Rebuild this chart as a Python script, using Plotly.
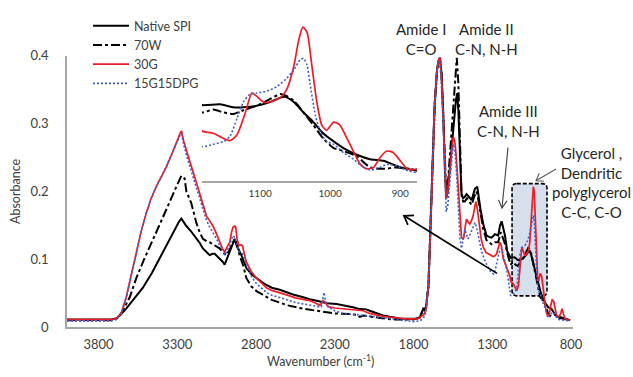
import math
import plotly.graph_objects as go

# FTIR spectra of soy protein isolate films: wavenumber (cm-1) and absorbance
native_wn = [4000, 3850, 3720, 3687, 3660, 3624, 3570, 3518, 3460, 3412, 3370, 3327, 3290, 3274,
             3260, 3242, 3215, 3190, 3160, 3137, 3110, 3094, 3075, 3062, 3045, 3031, 3010, 2999,
             2985, 2967, 2950, 2935, 2925, 2915, 2905, 2893, 2875, 2861, 2830, 2797, 2760, 2734,
             2700, 2649, 2600, 2565, 2500, 2459, 2400, 2374, 2350, 2289, 2240, 2184, 2150, 2120,
             2100, 2078, 2040, 1993, 1950, 1887, 1830, 1781, 1760, 1745, 1738, 1730, 1720, 1705,
             1695, 1680, 1665, 1650, 1640, 1632, 1622, 1610, 1600, 1592, 1582, 1570, 1555, 1540,
             1530, 1522, 1515, 1508, 1500, 1495, 1485, 1474, 1463, 1453, 1440, 1431, 1420, 1410,
             1395, 1385, 1374, 1357, 1336, 1320, 1304, 1290, 1283, 1262, 1250, 1240, 1230, 1219,
             1205, 1198, 1183, 1157, 1138, 1124, 1105, 1086, 1071, 1064, 1052, 1038, 1024, 1010,
             995, 981, 962, 943, 924, 905, 886, 876, 850, 825, 805]
native_abs = [0.011, 0.011, 0.011, 0.0125, 0.018, 0.027, 0.043, 0.058, 0.080, 0.101, 0.120, 0.140,
              0.155, 0.160, 0.155, 0.149, 0.142, 0.135, 0.125, 0.116, 0.109, 0.106, 0.108, 0.108,
              0.104, 0.101, 0.096, 0.092, 0.100, 0.111, 0.120, 0.130, 0.122, 0.116, 0.112, 0.106,
              0.095, 0.087, 0.078, 0.072, 0.066, 0.062, 0.058, 0.055, 0.051, 0.048, 0.044, 0.041,
              0.038, 0.037, 0.035, 0.034, 0.032, 0.029, 0.027, 0.027, 0.026, 0.024, 0.021, 0.017,
              0.015, 0.0125, 0.012, 0.012, 0.014, 0.022, 0.027, 0.025, 0.030, 0.060, 0.120, 0.230,
              0.330, 0.380, 0.393, 0.397, 0.375, 0.310, 0.230, 0.190, 0.200, 0.235, 0.275, 0.310,
              0.335, 0.345, 0.320, 0.270, 0.220, 0.197, 0.190, 0.192, 0.196, 0.194, 0.190, 0.187,
              0.196, 0.204, 0.207, 0.190, 0.173, 0.152, 0.135, 0.133, 0.132, 0.135, 0.137, 0.135,
              0.150, 0.156, 0.145, 0.135, 0.112, 0.108, 0.102, 0.103, 0.099, 0.099, 0.101, 0.106,
              0.112, 0.113, 0.106, 0.092, 0.079, 0.064, 0.053, 0.044, 0.035, 0.029, 0.027, 0.020,
              0.015, 0.015, 0.013, 0.011, 0.010]

w70_wn = [4000, 3720, 3680, 3645, 3600, 3560, 3510, 3455, 3410, 3370, 3340, 3306, 3274, 3253,
          3242, 3211, 3179, 3158, 3137, 3110, 3094, 3060, 3031, 3010, 2988, 2970, 2956, 2935,
          2920, 2904, 2880, 2861, 2830, 2797, 2760, 2734, 2700, 2649, 2600, 2501, 2420, 2374,
          2300, 2200, 2163, 2141, 2120, 2000, 1930, 1800, 1760, 1745, 1738, 1730, 1720, 1705,
          1695, 1680, 1665, 1650, 1640, 1632, 1622, 1610, 1600, 1592, 1582, 1570, 1555, 1540,
          1530, 1525, 1515, 1508, 1500, 1495, 1485, 1474, 1460, 1445, 1431, 1415, 1400, 1390,
          1374, 1357, 1336, 1304, 1283, 1262, 1245, 1230, 1215, 1200, 1183, 1167, 1152, 1138,
          1124, 1105, 1086, 1071, 1064, 1052, 1038, 1024, 1010, 995, 981, 962, 943, 924, 905,
          886, 876, 850, 825, 805]
w70_abs = [0.010, 0.010, 0.013, 0.024, 0.045, 0.072, 0.100, 0.130, 0.152, 0.173, 0.190, 0.207,
           0.223, 0.219, 0.200, 0.183, 0.154, 0.140, 0.130, 0.126, 0.125, 0.120, 0.116, 0.110,
           0.106, 0.113, 0.120, 0.130, 0.120, 0.106, 0.090, 0.072, 0.060, 0.053, 0.048, 0.044,
           0.040, 0.036, 0.032, 0.027, 0.024, 0.022, 0.020, 0.019, 0.018, 0.015, 0.017, 0.013,
           0.011, 0.011, 0.014, 0.022, 0.027, 0.024, 0.030, 0.060, 0.120, 0.230, 0.330, 0.380,
           0.393, 0.397, 0.375, 0.310, 0.240, 0.200, 0.210, 0.250, 0.300, 0.360, 0.390, 0.397,
           0.360, 0.290, 0.220, 0.195, 0.185, 0.185, 0.190, 0.185, 0.180, 0.192, 0.200, 0.190,
           0.165, 0.145, 0.128, 0.122, 0.125, 0.125, 0.140, 0.130, 0.120, 0.105, 0.092, 0.096,
           0.092, 0.090, 0.095, 0.101, 0.110, 0.117, 0.115, 0.108, 0.092, 0.075, 0.057, 0.044,
           0.040, 0.033, 0.018, 0.016, 0.018, 0.016, 0.0135, 0.012, 0.011, 0.010]

g30_wn = [4000, 3720, 3687, 3656, 3624, 3590, 3560, 3530, 3497, 3465, 3433, 3400, 3370, 3340,
          3317, 3295, 3280, 3272, 3260, 3240, 3221, 3190, 3158, 3135, 3115, 3095, 3073, 3050,
          3031, 3012, 2999, 2985, 2967, 2955, 2946, 2935, 2929, 2920, 2908, 2895, 2886, 2870,
          2861, 2830, 2797, 2760, 2734, 2700, 2649, 2600, 2550, 2459, 2420, 2395, 2380, 2374,
          2360, 2342, 2300, 2250, 2184, 2120, 2078, 2000, 1930, 1850, 1781, 1765, 1750, 1735,
          1720, 1705, 1695, 1680, 1665, 1650, 1640, 1632, 1622, 1610, 1600, 1592, 1582, 1570,
          1560, 1550, 1545, 1535, 1525, 1515, 1505, 1495, 1485, 1480, 1470, 1463, 1452, 1442,
          1430, 1421, 1410, 1404, 1395, 1383, 1370, 1357, 1340, 1325, 1310, 1294, 1282, 1272,
          1260, 1251, 1242, 1230, 1220, 1209, 1198, 1187, 1183, 1167, 1152, 1143, 1133, 1121,
          1112, 1105, 1095, 1086, 1071, 1062, 1052, 1045, 1039, 1033, 1026, 1019, 1012, 1005,
          995, 986, 976, 967, 957, 948, 938, 929, 919, 910, 900, 890, 876, 865, 857, 848, 838,
          820, 805]
g30_abs = [0.011, 0.011, 0.0125, 0.020, 0.044, 0.078, 0.111, 0.140, 0.168, 0.190, 0.207, 0.222,
           0.236, 0.252, 0.264, 0.278, 0.287, 0.289, 0.275, 0.258, 0.245, 0.222, 0.197, 0.178,
           0.164, 0.157, 0.149, 0.137, 0.125, 0.115, 0.111, 0.117, 0.125, 0.140, 0.147, 0.149,
           0.148, 0.130, 0.120, 0.121, 0.120, 0.104, 0.096, 0.082, 0.072, 0.064, 0.058, 0.054,
           0.051, 0.047, 0.043, 0.039, 0.035, 0.032, 0.036, 0.039, 0.036, 0.030, 0.028, 0.027,
           0.026, 0.024, 0.020, 0.016, 0.014, 0.012, 0.012, 0.013, 0.016, 0.018, 0.025, 0.060,
           0.120, 0.230, 0.330, 0.380, 0.394, 0.398, 0.370, 0.300, 0.230, 0.190, 0.200, 0.230,
           0.260, 0.277, 0.280, 0.270, 0.240, 0.200, 0.161, 0.132, 0.130, 0.132, 0.150, 0.159,
           0.155, 0.152, 0.158, 0.164, 0.178, 0.185, 0.175, 0.149, 0.130, 0.118, 0.110, 0.108,
           0.106, 0.104, 0.105, 0.108, 0.118, 0.125, 0.120, 0.101, 0.095, 0.089, 0.082, 0.075,
           0.067, 0.064, 0.057, 0.054, 0.062, 0.092, 0.118, 0.114, 0.106, 0.106, 0.112, 0.123,
           0.154, 0.189, 0.207, 0.200, 0.154, 0.106, 0.075, 0.068, 0.079, 0.075, 0.057, 0.040,
           0.022, 0.016, 0.018, 0.031, 0.040, 0.038, 0.027, 0.016, 0.015, 0.020, 0.027, 0.020,
           0.012, 0.011, 0.010]

dpg_wn = [4000, 3720, 3687, 3656, 3624, 3590, 3560, 3530, 3497, 3465, 3433, 3400, 3370, 3340,
          3317, 3295, 3280, 3272, 3260, 3240, 3221, 3190, 3158, 3135, 3115, 3095, 3073, 3050,
          3031, 3010, 2999, 2985, 2967, 2955, 2946, 2935, 2920, 2908, 2886, 2861, 2830, 2797,
          2760, 2734, 2700, 2649, 2600, 2550, 2459, 2400, 2385, 2375, 2368, 2360, 2342, 2300,
          2247, 2150, 2078, 2000, 1930, 1850, 1802, 1760, 1740, 1725, 1710, 1700, 1685, 1670,
          1655, 1645, 1635, 1625, 1612, 1600, 1592, 1582, 1570, 1560, 1550, 1545, 1535, 1525,
          1515, 1505, 1495, 1485, 1474, 1463, 1453, 1442, 1431, 1420, 1410, 1400, 1389, 1378,
          1367, 1350, 1336, 1320, 1304, 1290, 1283, 1270, 1255, 1240, 1230, 1219, 1208, 1198,
          1190, 1183, 1167, 1152, 1143, 1133, 1124, 1114, 1105, 1090, 1076, 1062, 1052, 1043,
          1038, 1033, 1029, 1021, 1014, 1005, 995, 981, 967, 952, 943, 933, 919, 905, 890, 876,
          850, 820, 805]
dpg_abs = [0.009, 0.009, 0.011, 0.019, 0.043, 0.078, 0.111, 0.140, 0.168, 0.190, 0.207, 0.222,
           0.236, 0.252, 0.264, 0.276, 0.284, 0.285, 0.270, 0.252, 0.238, 0.215, 0.192, 0.172,
           0.158, 0.148, 0.140, 0.130, 0.120, 0.116, 0.106, 0.112, 0.120, 0.130, 0.135, 0.132,
           0.120, 0.112, 0.108, 0.092, 0.075, 0.064, 0.056, 0.051, 0.047, 0.044, 0.040, 0.036,
           0.032, 0.030, 0.030, 0.040, 0.051, 0.040, 0.030, 0.024, 0.020, 0.018, 0.016, 0.013,
           0.011, 0.009, 0.008, 0.009, 0.012, 0.018, 0.050, 0.100, 0.200, 0.310, 0.370, 0.388,
           0.393, 0.370, 0.300, 0.220, 0.170, 0.180, 0.210, 0.245, 0.265, 0.270, 0.255, 0.220,
           0.170, 0.130, 0.116, 0.130, 0.144, 0.136, 0.130, 0.136, 0.142, 0.150, 0.154, 0.148,
           0.135, 0.120, 0.111, 0.100, 0.092, 0.085, 0.080, 0.078, 0.082, 0.095, 0.111, 0.116,
           0.108, 0.096, 0.085, 0.068, 0.055, 0.046, 0.049, 0.053, 0.060, 0.084, 0.106, 0.117,
           0.118, 0.121, 0.127, 0.138, 0.149, 0.163, 0.165, 0.156, 0.132, 0.088, 0.066, 0.053,
           0.049, 0.038, 0.029, 0.018, 0.0145, 0.016, 0.022, 0.020, 0.0135, 0.011, 0.010, 0.009,
           0.009]

series_names = ["Native SPI", "70W", "30G", "15G15DPG"]
series_wn = [native_wn, w70_wn, g30_wn, dpg_wn]
series_abs = [native_abs, w70_abs, g30_abs, dpg_abs]
series_color = ["#000000", "#000000", "#ee1c25", "#3f5fc8"]
series_width = [2.0, 2.0, 1.7, 1.6]
series_dash = ["solid", "9px,3px,3px,3px", "solid", "2px,2px"]

x_ticks = [3800, 3300, 2800, 2300, 1800, 1300, 800]
inset_ticks = [1100, 1000, 900]

# glycerol / dendritic polyglycerol band highlighted on the main spectrum
band_hi, band_lo = 1174, 952
band_bottom, band_top = 0.046, 0.2115

W, H = 633, 377
ML, MR, MT, MB = 67, 60, 5, 50
PW, PH = W - ML - MR, H - MT - MB

def paper(xp, yp):
    return (xp - ML) / PW, (H - MB - yp) / PH

TXT = "#404040"
FONT = "Lato, 'Open Sans', sans-serif"

fig = go.Figure()
for name, xs, ys, c, w, d in zip(series_names, series_wn, series_abs, series_color, series_width, series_dash):
    fig.add_trace(go.Scatter(x=xs, y=ys, mode="lines", name=name,
                             line=dict(color=c, width=w, dash=d), xaxis="x", yaxis="y"))
for name, xs, ys, c, w, d in zip(series_names, series_wn, series_abs, series_color, series_width, series_dash):
    fig.add_trace(go.Scatter(x=xs, y=ys, mode="lines", name=name, showlegend=False,
                             line=dict(color=c, width=w, dash=d, shape="spline", smoothing=0.6),
                             xaxis="x2", yaxis="y2"))

main_top = (H - MB - 49) / PH
inset_x0, _ = paper(202, 0)
inset_x1, _ = paper(417, 0)
_, inset_y0 = paper(0, 177)
_, inset_y1 = paper(0, 10)

fig.update_layout(
    width=W, height=H,
    margin=dict(l=ML, r=MR, t=MT, b=MB),
    paper_bgcolor="white", plot_bgcolor="rgba(0,0,0,0)",
    font=dict(family=FONT, color=TXT, size=13),
    showlegend=True,
    legend=dict(x=paper(88, 0)[0], y=paper(0, 3)[1], xanchor="left", yanchor="top",
                bgcolor="rgba(0,0,0,0)", font=dict(size=12.5, color=TXT),
                tracegroupgap=0, itemwidth=36),
    xaxis=dict(domain=[0, 1], range=[4000, 787], tickmode="array", tickvals=x_ticks,
               showgrid=False, zeroline=False, showline=True, linecolor="#a6a6a6", linewidth=1.5,
               ticks="", ticklabelstandoff=5, tickfont=dict(size=13, color=TXT)),
    yaxis=dict(domain=[0, main_top], range=[0, 0.4], dtick=0.1, showgrid=False, zeroline=False,
               showline=True, linecolor="#a6a6a6", linewidth=1.5, ticks="", ticklabelstandoff=14,
               tickfont=dict(size=13, color=TXT),
               title=dict(text="Absorbance", font=dict(size=12.5, color=TXT), standoff=7)),
    xaxis2=dict(domain=[inset_x0, inset_x1], range=[1183, 876], anchor="y2", tickmode="array",
                tickvals=inset_ticks, showgrid=False, zeroline=False, showline=True,
                linecolor="#a6a6a6", linewidth=1.5, ticks="", ticklabelstandoff=3,
                tickfont=dict(size=10, color=TXT)),
    yaxis2=dict(domain=[inset_y0, inset_y1], range=[0, 0.2195], anchor="x2", visible=False),
)

# x-axis title
tx, ty = paper(320, 361)
fig.add_annotation(text="Wavenumber (cm<sup>-1</sup>)", x=tx, y=ty, xref="paper", yref="paper",
                   showarrow=False, xanchor="center", yanchor="middle",
                   font=dict(size=12.5, color=TXT, family=FONT))

# highlighted band: dashed rounded box drawn beneath the spectra
rx, ry = 30, 0.007
L, R, B, T = band_hi, band_lo, band_bottom, band_top
path = (f"M{L - rx},{T} L{R + rx},{T} Q{R},{T} {R},{T - ry} L{R},{B + ry} Q{R},{B} {R + rx},{B} "
        f"L{L - rx},{B} Q{L},{B} {L},{B + ry} L{L},{T - ry} Q{L},{T} {L - rx},{T} Z")
fig.add_shape(type="path", path=path, xref="x", yref="y", layer="below",
              fillcolor="#d6dfec", line=dict(color="#000000", width=1.6, dash="4px,2px"))

def label(text, xp, yp, size=15):
    x, y = paper(xp, yp)
    fig.add_annotation(text=text, x=x, y=y, xref="paper", yref="paper", showarrow=False,
                       xanchor="center", yanchor="middle",
                       font=dict(size=size, color="#262626", family=FONT), align="center")

def arrow(x_head, y_head, x_tail, y_tail, color, width, head_len=8, half_angle=32):
    """Straight connector with an open V head, laid out in pixel space."""
    ang = math.atan2(y_tail - y_head, x_tail - x_head)
    pts = []
    for s in (-1, 1):
        a = ang + s * math.radians(half_angle)
        pts.append((x_head + head_len * math.cos(a), y_head + head_len * math.sin(a)))
    def p(xp, yp):
        u, v = paper(xp, yp)
        return f"{u:.5f},{v:.5f}"
    line_path = f"M{p(x_tail, y_tail)} L{p(x_head, y_head)}"
    head_path = f"M{p(*pts[0])} L{p(x_head, y_head)} L{p(*pts[1])}"
    for d in (line_path, head_path):
        fig.add_shape(type="path", path=d, xref="paper", yref="paper", layer="above",
                      line=dict(color=color, width=width))

label("Amide I<br>C=O", 421, 32)
label("Amide II<br>C-N, N-H", 486, 32)
label("Amide III<br>C-N, N-H", 508, 116)
label("Glycerol ,<br>Dendritic<br>polyglycerol<br>C-C, C-O", 591, 179)

arrow(502, 205, 508, 143, "#404040", 1.1, head_len=9, half_angle=28)
arrow(536, 177, 556, 165, "#595959", 1.1, head_len=8, half_angle=35)
arrow(404, 213, 497, 272, "#000000", 1.7, head_len=10, half_angle=35)

fig.write_html("out.html")
